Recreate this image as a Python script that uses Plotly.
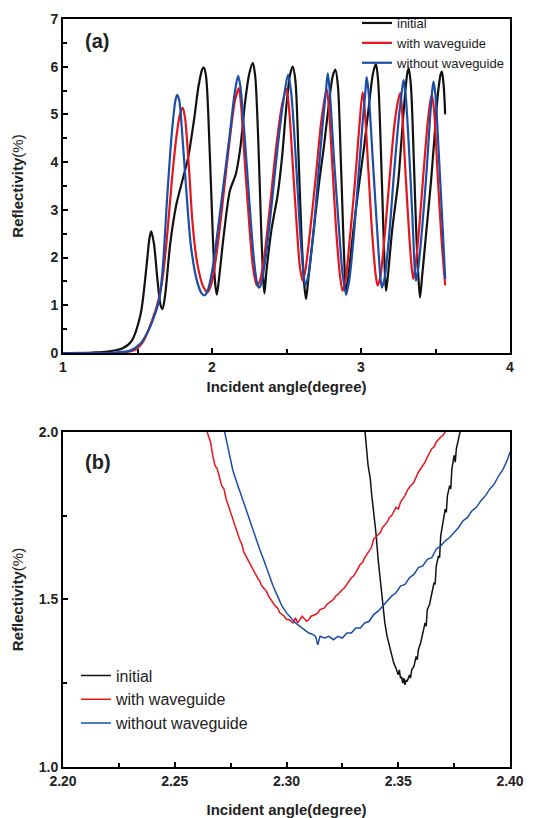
import plotly.graph_objects as go

# ---------------- Panel (a) data ----------------
a_init_x = [1.0, 1.2, 1.3, 1.4, 1.46, 1.52, 1.56, 1.58, 1.592, 1.61, 1.635, 1.655, 1.668, 1.685, 1.72, 1.76, 1.80, 1.84, 1.88, 1.91, 1.935, 1.945, 1.96, 1.985, 2.005, 2.02, 2.032, 2.045, 2.08, 2.12, 2.16, 2.19, 2.22, 2.25, 2.274, 2.29, 2.31, 2.33, 2.345, 2.352, 2.365, 2.40, 2.44, 2.47, 2.50, 2.525, 2.542, 2.56, 2.58, 2.60, 2.62, 2.631, 2.645, 2.68, 2.72, 2.75, 2.78, 2.81, 2.828, 2.845, 2.865, 2.88, 2.892, 2.90, 2.915, 2.95, 2.99, 3.02, 3.05, 3.08, 3.10, 3.115, 3.135, 3.15, 3.16, 3.168, 3.18, 3.21, 3.25, 3.27, 3.295, 3.31, 3.32, 3.335, 3.355, 3.37, 3.385, 3.396, 3.41, 3.44, 3.47, 3.49, 3.515, 3.535, 3.543, 3.555, 3.565]
a_init_y = [0.0, 0.01, 0.03, 0.1, 0.25, 0.8, 1.8, 2.4, 2.55, 2.3, 1.5, 1.0, 0.92, 1.2, 2.3, 3.1, 3.6, 4.1, 4.9, 5.6, 5.95, 5.98, 5.8, 4.2, 2.5, 1.5, 1.22, 1.5, 2.5, 3.4, 3.75, 4.3, 5.2, 5.85, 6.08, 5.8, 4.5, 2.6, 1.5, 1.25, 1.7, 2.6, 3.3, 4.1, 5.2, 5.85, 6.0, 5.7, 4.2, 2.5, 1.4, 1.13, 1.5, 2.5, 3.6, 4.3, 5.1, 5.8, 5.94, 5.6, 4.0, 2.6, 1.6, 1.22, 1.6, 2.6, 3.6, 4.3, 5.1, 5.85, 6.06, 5.7, 4.1, 2.6, 1.7, 1.3, 1.6, 2.6, 3.6, 4.4, 5.4, 5.85, 5.97, 5.6, 4.0, 2.6, 1.6, 1.16, 1.6, 2.6, 3.6, 4.4, 5.4, 5.85, 5.9, 5.6, 5.0]

a_with_x = [1.0, 1.4, 1.48, 1.54, 1.60, 1.64, 1.67, 1.70, 1.73, 1.76, 1.785, 1.804, 1.82, 1.845, 1.87, 1.90, 1.94, 1.972, 2.00, 2.04, 2.08, 2.12, 2.155, 2.18, 2.195, 2.22, 2.25, 2.275, 2.30, 2.32, 2.35, 2.39, 2.43, 2.47, 2.50, 2.515, 2.545, 2.57, 2.59, 2.609, 2.625, 2.66, 2.70, 2.735, 2.77, 2.785, 2.81, 2.835, 2.86, 2.877, 2.895, 2.925, 2.96, 2.99, 3.011, 3.025, 3.05, 3.075, 3.10, 3.112, 3.13, 3.16, 3.19, 3.225, 3.25, 3.264, 3.275, 3.30, 3.325, 3.34, 3.351, 3.365, 3.39, 3.42, 3.45, 3.47, 3.476, 3.49, 3.515, 3.54, 3.565]
a_with_y = [0.0, 0.01, 0.06, 0.25, 0.7, 1.1, 1.6, 2.5, 3.6, 4.5, 5.0, 5.14, 4.9, 3.9, 2.7, 1.9, 1.4, 1.28, 1.5, 2.3, 3.4, 4.5, 5.3, 5.55, 5.2, 4.0, 2.7, 1.8, 1.42, 1.5, 2.0, 3.1, 4.3, 5.2, 5.53, 5.2, 3.8, 2.6, 1.8, 1.51, 1.7, 2.6, 3.8, 4.9, 5.53, 5.1, 3.8, 2.5, 1.6, 1.30, 1.5, 2.4, 3.6, 4.8, 5.47, 5.1, 3.8, 2.5, 1.6, 1.41, 1.6, 2.5, 3.6, 4.8, 5.3, 5.45, 5.1, 3.7, 2.4, 1.8, 1.55, 1.8, 2.6, 3.8, 4.9, 5.35, 5.41, 5.1, 3.7, 2.4, 1.42]

a_without_x = [1.0, 1.35, 1.45, 1.52, 1.57, 1.61, 1.645, 1.67, 1.70, 1.73, 1.755, 1.766, 1.78, 1.80, 1.83, 1.86, 1.90, 1.93, 1.95, 1.97, 2.00, 2.04, 2.08, 2.12, 2.15, 2.175, 2.19, 2.22, 2.25, 2.28, 2.30, 2.314, 2.33, 2.36, 2.40, 2.44, 2.48, 2.51, 2.53, 2.56, 2.59, 2.61, 2.627, 2.645, 2.68, 2.71, 2.74, 2.765, 2.777, 2.79, 2.82, 2.85, 2.875, 2.90, 2.92, 2.95, 2.98, 3.01, 3.03, 3.038, 3.05, 3.08, 3.11, 3.13, 3.141, 3.16, 3.19, 3.22, 3.25, 3.275, 3.286, 3.30, 3.33, 3.35, 3.36, 3.369, 3.385, 3.41, 3.44, 3.465, 3.48, 3.487, 3.50, 3.525, 3.55, 3.565]
a_without_y = [0.0, 0.01, 0.05, 0.2, 0.45, 0.75, 1.1, 1.8, 3.3, 4.6, 5.3, 5.41, 5.3, 4.6, 3.3, 2.2, 1.5, 1.25, 1.21, 1.3, 1.7, 2.6, 3.6, 4.6, 5.4, 5.81, 5.6, 4.5, 3.2, 2.0, 1.5, 1.37, 1.45, 2.0, 3.1, 4.3, 5.3, 5.83, 5.5, 4.2, 2.6, 1.8, 1.42, 1.6, 2.5, 3.6, 4.7, 5.5, 5.86, 5.5, 4.0, 2.7, 1.7, 1.23, 1.5, 2.4, 3.6, 4.8, 5.5, 5.78, 5.5, 4.0, 2.5, 1.6, 1.37, 1.6, 2.5, 3.7, 4.8, 5.5, 5.72, 5.4, 3.8, 2.5, 1.8, 1.51, 1.8, 2.6, 3.8, 5.0, 5.55, 5.69, 5.4, 4.0, 2.5, 1.55]

# ---------------- Panel (b) data ----------------
b_init_x = [2.335, 2.336, 2.3365, 2.337, 2.3375, 2.338, 2.3385, 2.339, 2.340, 2.341, 2.342, 2.343, 2.344, 2.345, 2.346, 2.347, 2.348, 2.349, 2.350, 2.3505, 2.351, 2.3515, 2.352, 2.3525, 2.353, 2.3535, 2.354, 2.355, 2.3555, 2.356, 2.357, 2.358, 2.3585, 2.359, 2.360, 2.361, 2.362, 2.3625, 2.363, 2.364, 2.365, 2.366, 2.3665, 2.367, 2.368, 2.3685, 2.369, 2.370, 2.371, 2.3715, 2.372, 2.373, 2.3735, 2.374, 2.375, 2.3755, 2.376, 2.377, 2.378]
b_init_y = [2.01, 1.93, 1.90, 1.88, 1.86, 1.82, 1.79, 1.76, 1.70, 1.62, 1.55, 1.49, 1.43, 1.39, 1.36, 1.335, 1.31, 1.295, 1.275, 1.29, 1.265, 1.27, 1.25, 1.265, 1.245, 1.26, 1.255, 1.275, 1.265, 1.29, 1.30, 1.33, 1.32, 1.35, 1.37, 1.40, 1.43, 1.42, 1.47, 1.485, 1.52, 1.55, 1.545, 1.60, 1.63, 1.625, 1.69, 1.73, 1.77, 1.76, 1.81, 1.84, 1.83, 1.89, 1.93, 1.91, 1.95, 1.98, 2.01]

b_with_x = [2.264, 2.266, 2.267, 2.268, 2.269, 2.270, 2.271, 2.272, 2.273, 2.275, 2.276, 2.277, 2.279, 2.280, 2.281, 2.283, 2.284, 2.285, 2.287, 2.288, 2.289, 2.291, 2.292, 2.293, 2.295, 2.296, 2.297, 2.299, 2.300, 2.301, 2.303, 2.304, 2.305, 2.306, 2.307, 2.309, 2.310, 2.311, 2.313, 2.314, 2.315, 2.317, 2.318, 2.319, 2.321, 2.322, 2.323, 2.325, 2.326, 2.327, 2.329, 2.330, 2.331, 2.333, 2.334, 2.335, 2.337, 2.338, 2.339, 2.341, 2.342, 2.343, 2.345, 2.346, 2.347, 2.349, 2.350, 2.351, 2.353, 2.354, 2.355, 2.357, 2.358, 2.359, 2.361, 2.362, 2.363, 2.365, 2.366, 2.367, 2.369, 2.370, 2.371]
b_with_y = [2.01, 1.97, 1.93, 1.90, 1.89, 1.86, 1.84, 1.83, 1.80, 1.76, 1.74, 1.715, 1.68, 1.665, 1.64, 1.615, 1.60, 1.59, 1.565, 1.555, 1.54, 1.525, 1.51, 1.50, 1.48, 1.475, 1.46, 1.45, 1.44, 1.44, 1.43, 1.445, 1.43, 1.44, 1.45, 1.435, 1.44, 1.45, 1.455, 1.46, 1.47, 1.475, 1.485, 1.49, 1.50, 1.51, 1.515, 1.53, 1.535, 1.545, 1.565, 1.57, 1.58, 1.605, 1.61, 1.625, 1.645, 1.655, 1.68, 1.695, 1.70, 1.715, 1.73, 1.745, 1.75, 1.775, 1.77, 1.79, 1.81, 1.825, 1.835, 1.85, 1.865, 1.88, 1.90, 1.91, 1.925, 1.95, 1.955, 1.97, 1.985, 1.99, 2.00]

b_without_x = [2.272, 2.274, 2.276, 2.278, 2.280, 2.282, 2.284, 2.286, 2.288, 2.290, 2.292, 2.294, 2.296, 2.298, 2.300, 2.302, 2.304, 2.306, 2.308, 2.310, 2.312, 2.313, 2.314, 2.315, 2.317, 2.319, 2.321, 2.323, 2.325, 2.327, 2.329, 2.331, 2.333, 2.335, 2.337, 2.339, 2.341, 2.343, 2.345, 2.347, 2.349, 2.351, 2.353, 2.355, 2.357, 2.359, 2.361, 2.363, 2.365, 2.367, 2.369, 2.371, 2.373, 2.375, 2.377, 2.379, 2.381, 2.383, 2.385, 2.387, 2.389, 2.391, 2.393, 2.395, 2.397, 2.399, 2.400]
b_without_y = [2.01, 1.95, 1.885, 1.845, 1.805, 1.77, 1.73, 1.69, 1.65, 1.615, 1.575, 1.54, 1.51, 1.48, 1.46, 1.445, 1.43, 1.42, 1.41, 1.40, 1.395, 1.39, 1.365, 1.39, 1.385, 1.39, 1.38, 1.39, 1.385, 1.40, 1.40, 1.415, 1.415, 1.43, 1.435, 1.455, 1.465, 1.48, 1.495, 1.51, 1.52, 1.54, 1.545, 1.565, 1.575, 1.595, 1.60, 1.62, 1.625, 1.65, 1.66, 1.675, 1.685, 1.70, 1.715, 1.735, 1.745, 1.765, 1.775, 1.795, 1.81, 1.83, 1.845, 1.87, 1.89, 1.92, 1.94]

names = ["initial", "with waveguide", "without waveguide"]
colors = ["#111111", "#e8141b", "#1a4ea6"]

FONT = "Liberation Sans, Arial, sans-serif"

fig = go.Figure()
a_sets = [(a_init_x, a_init_y), (a_with_x, a_with_y), (a_without_x, a_without_y)]
b_sets = [(b_init_x, b_init_y), (b_with_x, b_with_y), (b_without_x, b_without_y)]

for (xs, ys), n, c in zip(a_sets, names, colors):
    fig.add_trace(go.Scatter(x=xs, y=ys, mode="lines", name=n, legend="legend",
                             line=dict(color=c, width=2.2, shape="spline", smoothing=0.8),
                             xaxis="x", yaxis="y"))
for (xs, ys), n, c in zip(b_sets, names, colors):
    fig.add_trace(go.Scatter(x=xs, y=ys, mode="lines", name=n, legend="legend2",
                             line=dict(color=c, width=1.5),
                             xaxis="x2", yaxis="y2"))

axis_common = dict(showline=True, linecolor="black", linewidth=2, mirror=True,
                   ticks="inside", ticklen=5, tickwidth=1.5, tickcolor="black",
                   showgrid=False, zeroline=False, automargin=False,
                   tickfont=dict(family=FONT, size=14, color="#222", weight="bold"))

fig.update_layout(
    width=526, height=810,
    margin=dict(l=55, r=24, t=11, b=51, autoexpand=False),
    paper_bgcolor="white", plot_bgcolor="white",
    font=dict(family=FONT, color="#222"),
    xaxis=dict(domain=[0, 1], anchor="y", range=[1, 4], dtick=1,
               minor=dict(dtick=0.5, ticks="inside", ticklen=4, tickcolor="black"),
               title=dict(text="<b>Incident angle(degree)</b>", font=dict(size=15), standoff=8),
               **axis_common),
    yaxis=dict(domain=[0.5535, 1.0], anchor="x", range=[0, 7], dtick=1,
               minor=dict(dtick=0.5, ticks="inside", ticklen=4, tickcolor="black"),
               title=dict(text="<b>Reflectivity</b>(%)", font=dict(size=15), standoff=23),
               **axis_common),
    xaxis2=dict(domain=[0, 1], anchor="y2", range=[2.2, 2.4], dtick=0.05, tickformat=".2f",
                minor=dict(dtick=0.025, ticks="inside", ticklen=4, tickcolor="black"),
                title=dict(text="<b>Incident angle(degree)</b>", font=dict(size=15), standoff=20),
                **axis_common),
    yaxis2=dict(domain=[0, 0.4479], anchor="x2", range=[1, 2], dtick=0.5, tickformat=".1f",
                minor=dict(dtick=0.25, ticks="inside", ticklen=4, tickcolor="black"),
                title=dict(text="<b>Reflectivity</b>(%)", font=dict(size=15), standoff=11),
                **axis_common),
    legend=dict(x=0.6577, y=1.0147, xanchor="left", yanchor="top", bgcolor="rgba(0,0,0,0)",
                font=dict(family=FONT, size=13, color="#222"), itemwidth=30),
    legend2=dict(x=0.029, y=0.145, xanchor="left", yanchor="top", bgcolor="rgba(0,0,0,0)",
                 font=dict(family=FONT, size=16, color="#222"), itemwidth=30),
    annotations=[
        dict(text="<b>(a)</b>", x=0.0447, y=0.9706, xref="paper", yref="paper",
             xanchor="left", yanchor="middle", showarrow=False,
             font=dict(family=FONT, size=20, color="#222")),
        dict(text="<b>(b)</b>", x=0.0447, y=0.4078, xref="paper", yref="paper",
             xanchor="left", yanchor="middle", showarrow=False,
             font=dict(family=FONT, size=20, color="#222")),
    ],
)

fig.write_html("out.html")
